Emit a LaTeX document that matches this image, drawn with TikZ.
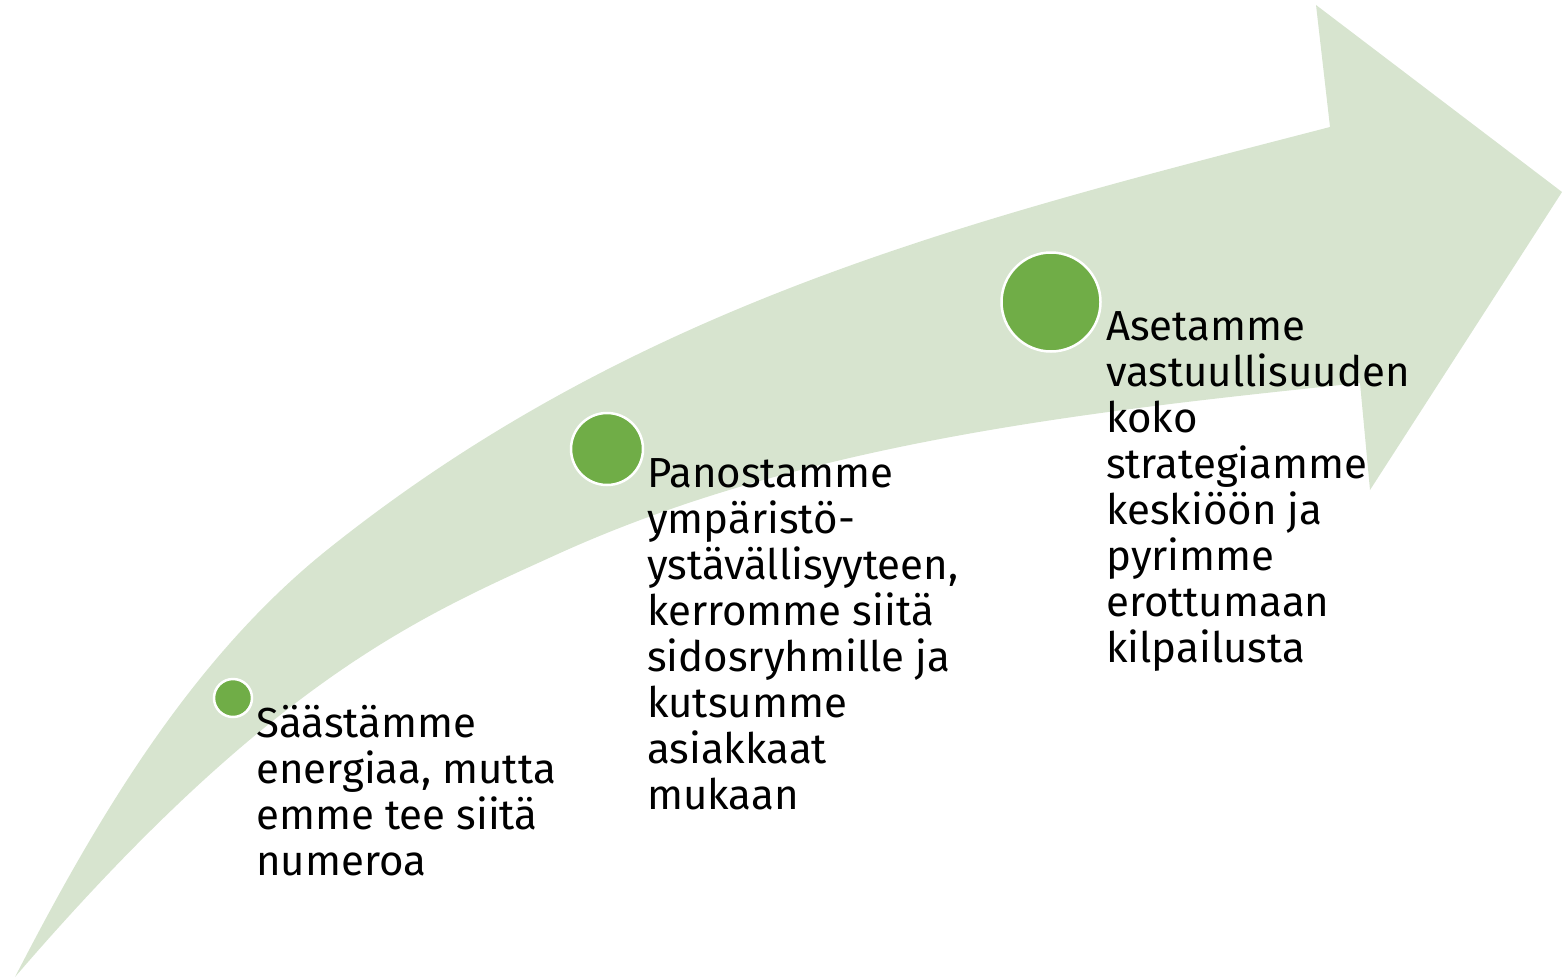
\documentclass[tikz,border=0pt]{standalone}
\usepackage{fontspec}
\setmainfont{Fira Sans}
\definecolor{arrowfill}{HTML}{D7E4CF}
\definecolor{dotgreen}{HTML}{70AD47}
\begin{document}
\begin{tikzpicture}[x=1pt,y=-1pt,
  dot/.style={circle, fill=dotgreen, draw=white, line width=2.5pt, inner sep=0pt},
  steptext/.style={anchor=base west, inner sep=0pt, align=left, text=black,
    font=\fontsize{42}{46}\selectfont}]
\useasboundingbox (0,0) rectangle (1562,979);
\fill[arrowfill]
  (15,977) .. controls (96,820) and (190,660) .. (327,550)
  .. controls (639,300) and (979,218) .. (1330,127)
  -- (1316,5) -- (1562,192) -- (1370,490) -- (1360,383)
  .. controls (1091,411) and (806,442) .. (560,553)
  .. controls (424,615) and (275,675) .. (15,977)
  -- cycle;
\node[dot, minimum size=38pt] (d1) at (233,698) {};
\node[dot, minimum size=72pt] (d2) at (607,449) {};
\node[dot, minimum size=99pt] (d3) at (1051,302) {};
\node[steptext] (t1) at (256,875) {Säästämme\\energiaa, mutta\\emme tee siitä\\numeroa};
\node[steptext] (t2) at (647,809) {Panostamme\\ympäristö-\\ystävällisyyteen,\\kerromme siitä\\sidosryhmille ja\\kutsumme\\asiakkaat\\mukaan};
\node[steptext] (t3) at (1106,662) {Asetamme\\vastuullisuuden\\koko\\strategiamme\\keskiöön ja\\pyrimme\\erottumaan\\kilpailusta};
\end{tikzpicture}
\end{document}
